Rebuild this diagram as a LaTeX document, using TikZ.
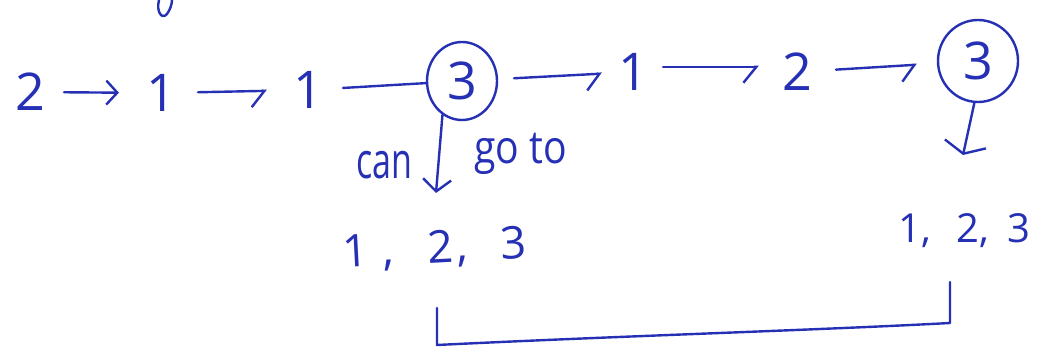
\documentclass[tikz,border=0pt]{standalone}
\usepackage{fontspec}
\setmainfont{Open Sans}
\usetikzlibrary{arrows.meta,shapes.geometric}
\definecolor{ink}{RGB}{38,48,180}
\begin{document}
\begin{tikzpicture}[x=1pt,y=-1pt, line width=2.4pt, draw=ink, line cap=round, line join=round,
  digit/.style={text=ink, inner sep=0pt, font=\fontsize{52}{52}\selectfont},
  word/.style={text=ink, inner sep=0pt, font=\fontsize{44}{44}\selectfont, anchor=base west},
  ring/.style={draw=ink, ellipse, inner sep=0pt, text=ink, font=\fontsize{52}{52}\selectfont},
  harp/.style={-{Straight Barb[right,length=13pt,width=32pt]}},
  fullarr/.style={-{Straight Barb[length=11pt,width=24pt]}},
  downarr/.style={-{Straight Barb[length=12pt,width=28pt]}},
  downarrwide/.style={-{Straight Barb[length=10pt,width=42pt]}}]
\path[use as bounding box, fill=white] (0,0) rectangle (1057,361);
% chain
\node[digit] (n1) at (30,92) {2};
\node[digit] (n2) at (161,93) {1};
\node[digit] (n3) at (308,90) {1};
\node[ring, minimum width=70pt, minimum height=78pt] (c1) at (462,81) {3};
\node[digit] (n5) at (633,72) {1};
\node[digit] (n6) at (797,72) {2};
\node[ring, minimum width=80pt, minimum height=82pt] (c2) at (978,61) {3};
% words
\node[word, font=\fontsize{50}{50}\selectfont] (can) at (355,178) {\scalebox{0.68}[1]{can}};
\node[word, font=\fontsize{46}{46}\selectfont] (goto) at (473,163) {\scalebox{0.85}[1]{go to}};
% lists
\node[word, font=\fontsize{45}{45}\selectfont, rotate=3] (l1) at (342,268) {1\hspace{15pt},\hspace{34pt}2\hspace{3pt},\hspace{33pt}3};
\node[word, font=\fontsize{40}{40}\selectfont] (l2) at (897,242) {1,\hspace{26pt}2,\hspace{18pt}3};
% connectors
\draw[draw=ink, fullarr, shorten <=18pt, shorten >=26pt] (n1) -- (n2);
\draw[draw=ink, harp, shorten <=21pt, shorten >=25pt] (n2) -- (n3);
\draw[draw=ink, shorten <=19pt] (n3) -- (c1);
\draw[draw=ink, harp, shorten <=16pt, shorten >=15pt] (c1) -- (n5);
\draw[draw=ink, harp, shorten <=14pt, shorten >=22pt] (n5.18) -- (n6.162);
\draw[draw=ink, harp, shorten <=23pt, shorten >=20pt] (n6) -- (c2);
\coordinate (d1) at (436,193);
\draw[draw=ink, downarr] (c1.240) -- (d1);
\coordinate (d2) at (963,155);
\draw[draw=ink, downarrwide] (c2.265) -- (d2);
% bracket
\coordinate (b1) at (437,308);
\coordinate (b2) at (437,345);
\coordinate (b3) at (950,323);
\coordinate (b4) at (950,282);
\draw[draw=ink] (b1) -- (b2) .. controls (620,336) and (820,330) .. (b3) -- (b4);
% cut-off stroke at top edge
\draw[draw=ink] (159,0) .. controls (156,12) and (162,20) .. (167,14) .. controls (170,10) and (172,4) .. (172,0);
\end{tikzpicture}
\end{document}
